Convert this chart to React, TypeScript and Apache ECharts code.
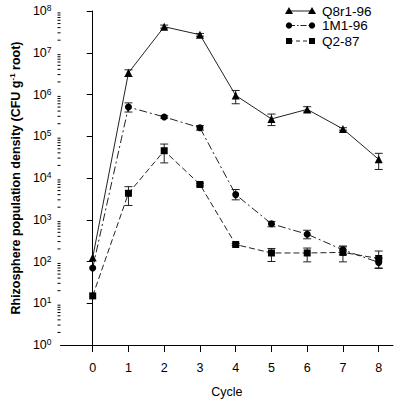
import React, { useEffect, useRef } from "react";
import * as echarts from "echarts";

const cycles = [0, 1, 2, 3, 4, 5, 6, 7, 8];
const q8r1 = [125, 3.3e6, 4.2e7, 2.7e7, 9.5e5, 2.6e5, 4.4e5, 1.5e5, 2.8e4];
const m1 = [70, 5.0e5, 2.9e5, 1.6e5, 4.0e3, 800, 450, 190, 95];
const q2 = [15, 4.3e3, 4.5e4, 7.0e3, 255, 160, 160, 165, 118];

const q8r1Low = [null, 2.7e6, 3.9e7, 2.5e7, 6.0e5, 1.8e5, 3.8e5, 1.4e5, 1.6e4];
const q8r1High = [null, 3.9e6, 4.6e7, 2.9e7, 1.25e6, 3.4e5, 5.1e5, 1.6e5, 3.9e4];
const m1Low = [null, 3.8e5, 2.7e5, 1.4e5, 3.0e3, 680, 350, 145, 68];
const m1High = [null, 6.3e5, 3.1e5, 1.8e5, 5.3e3, 910, 560, 235, 120];
const q2Low = [null, 2.2e3, 2.3e4, 6.5e3, 240, 100, 98, 98, 70];
const q2High = [null, 6.2e3, 6.5e4, 7.5e3, 270, 205, 210, 225, 178];

const xTicks = [0, 1, 2, 3, 4, 5, 6, 7, 8];
const decades = [0, 1, 2, 3, 4, 5, 6, 7];
const minorMultipliers = [2, 3, 4, 5, 6, 7, 8, 9];

const seriesNames = ["Q8r1-96", "1M1-96", "Q2-87"];

const FONT = "'Liberation Sans', Arial, Helvetica, sans-serif";
const X_MIN = -0.9;

function pairs(ys: number[]) {
  return cycles.map((c, i) => [c, ys[i]]);
}

function errData(lo: (number | null)[], hi: (number | null)[]) {
  const out: number[][] = [];
  cycles.forEach((c, i) => {
    if (lo[i] != null && hi[i] != null) out.push([c, lo[i] as number, hi[i] as number]);
  });
  return out;
}

function errSeries(lo: (number | null)[], hi: (number | null)[]) {
  return {
    type: "custom",
    silent: true,
    z: 1,
    clip: false,
    encode: { x: 0, y: [1, 2] },
    data: errData(lo, hi),
    renderItem: (params: any, api: any) => {
      const x = api.value(0);
      const p1 = api.coord([x, api.value(1)]);
      const p2 = api.coord([x, api.value(2)]);
      const w = 4;
      const st = { stroke: "#222", lineWidth: 1 };
      return {
        type: "group",
        children: [
          { type: "line", shape: { x1: p1[0], y1: p1[1], x2: p2[0], y2: p2[1] }, style: st },
          { type: "line", shape: { x1: p1[0] - w, y1: p1[1], x2: p1[0] + w, y2: p1[1] }, style: st },
          { type: "line", shape: { x1: p2[0] - w, y1: p2[1], x2: p2[0] + w, y2: p2[1] }, style: st },
        ],
      };
    },
  };
}

const minorTickData: number[][] = [];
decades.forEach((d) => {
  minorMultipliers.forEach((m) => {
    minorTickData.push([X_MIN, m * Math.pow(10, d)]);
  });
});

export default function App() {
  const ref = useRef<HTMLDivElement>(null);
  useEffect(() => {
    if (!ref.current) return;
    const chart = echarts.init(ref.current, null, { renderer: "svg" });

    const legendRows = [
      { name: seriesNames[0], y: 11, dash: null as any, marker: "triangle" },
      { name: seriesNames[1], y: 25.5, dash: [6, 2, 1.5, 2], marker: "circle" },
      { name: seriesNames[2], y: 41, dash: [4, 3], marker: "rect" },
    ];
    const legendEls: any[] = [];
    const lx1 = 289;
    const lx2 = 312;
    legendRows.forEach((r) => {
      legendEls.push({
        type: "line",
        shape: { x1: lx1, y1: r.y, x2: lx2, y2: r.y },
        style: { stroke: "#222", lineWidth: 1, lineDash: r.dash || undefined },
      });
      [lx1, lx2].forEach((cx) => {
        if (r.marker === "triangle") {
          legendEls.push({
            type: "polygon",
            shape: { points: [[cx, r.y - 4], [cx - 4, r.y + 3], [cx + 4, r.y + 3]] },
            style: { fill: "#000" },
          });
        } else if (r.marker === "circle") {
          legendEls.push({ type: "circle", shape: { cx, cy: r.y, r: 3.2 }, style: { fill: "#000" } });
        } else {
          legendEls.push({ type: "rect", shape: { x: cx - 3, y: r.y - 3, width: 6, height: 6 }, style: { fill: "#000" } });
        }
      });
      legendEls.push({
        type: "text",
        x: 322,
        y: r.y,
        style: { text: r.name, font: `13.5px ${FONT}`, fill: "#000", verticalAlign: "middle", align: "left" },
      });
    });

    const lineBase = { color: "#222", width: 1 };

    chart.setOption({
      animation: false,
      backgroundColor: "#fff",
      grid: { left: 57, right: 7, top: 11, bottom: 56, containLabel: false },
      xAxis: {
        type: "value",
        min: X_MIN,
        max: 8.4,
        name: "Cycle",
        nameLocation: "middle",
        nameGap: 40,
        nameTextStyle: { fontFamily: FONT, fontSize: 12.5, color: "#000" },
        axisLine: { show: true, lineStyle: { color: "#000", width: 1 } },
        axisTick: { show: true, customValues: xTicks, length: 7, inside: false, lineStyle: { color: "#000" } },
        axisLabel: { customValues: xTicks, margin: 16, fontFamily: FONT, fontSize: 12.5, color: "#000" },
        splitLine: { show: false },
      },
      yAxis: {
        type: "log",
        logBase: 10,
        min: 1,
        max: 1e8,
        splitNumber: 8,
        name: "{t|Rhizosphere population density (CFU g}{s|-1}{t| root)}",
        nameLocation: "middle",
        nameGap: 36,
        nameRotate: 90,
        nameTextStyle: {
          rich: {
            t: { fontFamily: FONT, fontSize: 12.5, fontWeight: "bold", color: "#000", lineHeight: 15 },
            s: { fontFamily: FONT, fontSize: 8, fontWeight: "bold", color: "#000", lineHeight: 9, verticalAlign: "top" },
          },
        },
        axisLine: { show: true, lineStyle: { color: "#000", width: 1 } },
        axisTick: { show: true, length: 6, lineStyle: { color: "#000" } },
        minorTick: { show: false },
        splitLine: { show: false },
        axisLabel: {
          margin: 9,
          formatter: (v: number) => `{b|10}{s|${Math.round(Math.log10(v))}}`,
          rich: {
            b: { fontFamily: FONT, fontSize: 12.5, color: "#000", lineHeight: 15 },
            s: { fontFamily: FONT, fontSize: 8.5, color: "#000", lineHeight: 9, verticalAlign: "top" },
          },
        },
      },
      series: [
        errSeries(q8r1Low, q8r1High),
        errSeries(m1Low, m1High),
        errSeries(q2Low, q2High),
        {
          type: "custom",
          silent: true,
          clip: false,
          encode: { x: 0, y: 1 },
          data: minorTickData,
          renderItem: (params: any, api: any) => {
            const p = api.coord([api.value(0), api.value(1)]);
            return {
              type: "line",
              shape: { x1: p[0] - 3, y1: p[1], x2: p[0], y2: p[1] },
              style: { stroke: "#000", lineWidth: 1 },
            };
          },
        },
        {
          name: seriesNames[0],
          type: "line",
          data: pairs(q8r1),
          symbol: "triangle",
          symbolSize: 8,
          z: 3,
          lineStyle: { ...lineBase, type: "solid" },
          itemStyle: { color: "#000" },
        },
        {
          name: seriesNames[1],
          type: "line",
          data: pairs(m1),
          symbol: "circle",
          symbolSize: 7,
          z: 3,
          lineStyle: { ...lineBase, type: [8, 3, 2, 3] },
          itemStyle: { color: "#000" },
        },
        {
          name: seriesNames[2],
          type: "line",
          data: pairs(q2),
          symbol: "rect",
          symbolSize: 7,
          z: 3,
          lineStyle: { ...lineBase, type: [6, 3] },
          itemStyle: { color: "#000" },
        },
      ],
      graphic: { elements: legendEls },
    });
    return () => chart.dispose();
  }, []);
  return <div ref={ref} style={{ width: 400, height: 403, position: "absolute", left: 0, top: 0 }} />;
}
